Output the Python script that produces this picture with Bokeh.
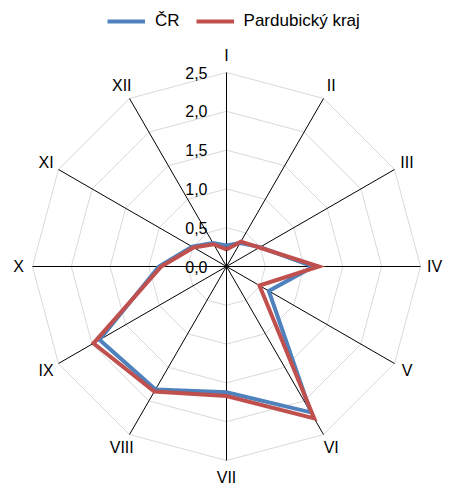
import numpy as np
from bokeh.plotting import figure
from bokeh.models import Legend, LegendItem, Range1d
from bokeh.core.properties import value
from bokeh.embed import file_html
from bokeh.resources import INLINE

months = ["I", "II", "III", "IV", "V", "VI", "VII", "VIII", "IX", "X", "XI", "XII"]
cr = [0.27, 0.35, 0.50, 1.12, 0.63, 2.17, 1.62, 1.83, 1.89, 0.87, 0.51, 0.35]
pardubicky = [0.22, 0.37, 0.49, 1.19, 0.49, 2.26, 1.67, 1.86, 1.98, 0.84, 0.49, 0.33]
ticks = [0.0, 0.5, 1.0, 1.5, 2.0, 2.5]
tick_labels = ["0,0", "0,5", "1,0", "1,5", "2,0", "2,5"]
series_names = ["ČR", "Pardubický kraj"]
colors = ["#4F81BD", "#C0504D"]

W, H = 444, 487
R = 194                   # pixel radius of outer ring
px = R / 2.5              # pixels per unit
cx, cy = 226, 266         # centre in figure pixels (from top-left)
FONT = value("Liberation Sans")

p = figure(width=W, height=H, output_backend="svg", toolbar_location=None,
           x_range=Range1d(-cx / px, (W - cx) / px),
           y_range=Range1d(-(H - cy) / px, cy / px),
           min_border=0, outline_line_color=None)
p.axis.visible = False
p.grid.visible = False
p.background_fill_color = "white"
p.border_fill_color = "white"

n = len(months)
ang = np.deg2rad(90 - 360 / n * np.arange(n))
rmax = ticks[-1]

# grid polygons
for t in ticks[1:]:
    xs = list(t * np.cos(ang)) + [t * np.cos(ang[0])]
    ys = list(t * np.sin(ang)) + [t * np.sin(ang[0])]
    p.line(xs, ys, line_color="#D9D9D9", line_width=1)

# spokes
p.segment(x0=[0] * n, y0=[0] * n, x1=list(rmax * np.cos(ang)), y1=list(rmax * np.sin(ang)),
          line_color="black", line_width=1)

# series
renderers = []
for vals, col in zip([cr, pardubicky], colors):
    v = np.array(vals)
    xs = list(v * np.cos(ang)) + [v[0] * np.cos(ang[0])]
    ys = list(v * np.sin(ang)) + [v[0] * np.sin(ang[0])]
    r = p.line(xs, ys, line_color=col, line_width=4, line_join="miter")
    renderers.append(r)

# radial tick labels
p.text(x=[-19 / px] * len(ticks), y=ticks, text=tick_labels, text_font=FONT,
       text_font_size="16px", text_align="right", text_baseline="middle", text_color="black")

# month labels
off = (17 - 3 * np.abs(np.cos(ang))) / px
lab_r = rmax + off
lx = lab_r * np.cos(ang)
ly = lab_r * np.sin(ang)
p.text(x=list(lx), y=list(ly), text=months, text_font=FONT, text_font_size="16px",
       text_align="center", text_baseline="middle", text_color="black")

legend = Legend(items=[LegendItem(label=series_names[i], renderers=[renderers[i]]) for i in range(2)],
                orientation="horizontal", location=(107, H - 31),
                label_text_font="Liberation Sans", label_text_font_size="17px",
                label_text_color="black", glyph_width=38, glyph_height=16, label_height=16,
                label_standoff=10, spacing=16, padding=0, margin=0,
                border_line_color=None, background_fill_alpha=0)
p.add_layout(legend, "center")

open("out.html", "w").write(file_html(p, INLINE))
